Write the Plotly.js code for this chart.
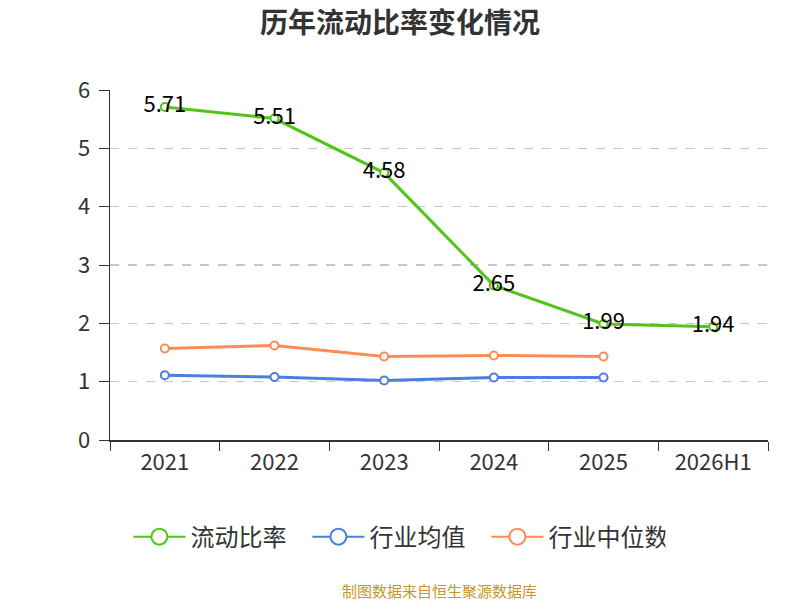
<!DOCTYPE html>
<html><head><meta charset="utf-8">
<script src="https://cdn.plot.ly/plotly-3.0.1.min.js"></script>
<style>body{margin:0}#c{width:800px;height:600px}</style>
</head><body><div id="c"></div>
<script>
const categories = ["2021","2022","2023","2024","2025","2026H1"];
const currentRatio = [5.71,5.51,4.58,2.65,1.99,1.94];
const industryMean = [1.11,1.08,1.02,1.07,1.07];
const industryMedian = [1.57,1.62,1.43,1.45,1.43];
const seriesNames = ["流动比率","行业均值","行业中位数"];
const colors = ['#52c41a','#4a7fe0','#ff8c55'];
const font = '"Noto Sans CJK SC","Noto Sans",sans-serif';
const mk = c => ({size:8, color:'#fff', line:{color:c, width:2}});
const traces = [
 {x:categories, y:currentRatio, name:seriesNames[0], mode:'lines+markers+text', type:'scatter',
  line:{color:colors[0], width:3}, marker:mk(colors[0]), showlegend:false,
  text:currentRatio.map(v=>v.toFixed(2)), textposition:'middle center',
  textfont:{size:22, color:'#000', family:font}},
 {x:categories.slice(0,5), y:industryMean, name:seriesNames[1], mode:'lines+markers', type:'scatter',
  line:{color:colors[1], width:3}, marker:mk(colors[1]), showlegend:false},
 {x:categories.slice(0,5), y:industryMedian, name:seriesNames[2], mode:'lines+markers', type:'scatter',
  line:{color:colors[2], width:3}, marker:mk(colors[2]), showlegend:false}
];
seriesNames.forEach((n,i)=>traces.push({x:[null], y:[null], name:n, mode:'lines+markers', type:'scatter',
  line:{color:colors[i], width:2}, marker:{size:16, color:'#fff', line:{color:colors[i], width:2}}}));
const layout = {
 width:800, height:600,
 margin:{l:110, r:32, t:90, b:160},
 paper_bgcolor:'#fff', plot_bgcolor:'#fff',
 font:{family:font, color:'#333'},
 title:{text:'<b>历年流动比率变化情况</b>', x:0.5, xanchor:'center', y:0.962, yanchor:'middle',
   font:{size:28, color:'#333', family:font}},
 xaxis:{type:'category', range:[-0.5,5.5], tickson:'boundaries', ticks:'outside', ticklen:9,
   tickcolor:'#333', showline:true, linecolor:'#333', linewidth:1.5, showgrid:false,
   tickfont:{size:22, color:'#333'}, ticklabelstandoff:2, fixedrange:true},
 yaxis:{range:[0,6], dtick:1, ticks:'outside', ticklen:10, tickcolor:'#333',
   showline:true, linecolor:'#333', linewidth:1.5, zeroline:false,
   showgrid:true, gridcolor:'#c8c8c8', griddash:'dash', gridwidth:1.5,
   tickfont:{size:22, color:'#333'}, ticklabelstandoff:4},
 legend:{orientation:'h', x:0.028, xanchor:'left', y:-0.213, yanchor:'top',
   font:{size:24, color:'#333'}, itemwidth:52, entrywidth:112, tracegroupgap:0},
 showlegend:true,
 annotations:[{text:'制图数据来自恒生聚源数据库', xref:'paper', yref:'paper', x:0.5, y:-0.395,
   xanchor:'center', yanchor:'top', showarrow:false, font:{size:15, color:'#c8962a'}}]
};
Plotly.newPlot('c', traces, layout, {displayModeBar:false, staticPlot:true});
</script></body></html>
